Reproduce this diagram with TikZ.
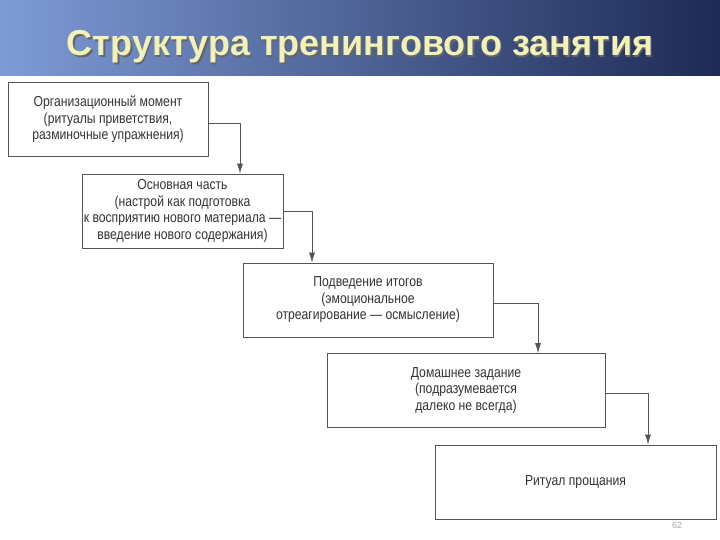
\documentclass[tikz,border=0pt]{standalone}
\usepackage{fontspec}
\setmainfont{Liberation Sans}
\newfontfamily\nar[FakeStretch=0.84]{Liberation Sans}
\usetikzlibrary{arrows.meta}
\definecolor{barL}{HTML}{7E9BD6}
\definecolor{barR}{HTML}{1E2A55}
\definecolor{ttl}{HTML}{F2F2B8}
\definecolor{ln}{HTML}{555555}
\begin{document}
\begin{tikzpicture}[x=1pt,y=-1pt,
  box/.style={draw=ln,line width=0.8pt,minimum height=74pt,align=center,font=\nar\fontsize{14.5}{16.5}\selectfont,text=black!80,inner sep=0pt},
  conn/.style={draw=ln,line width=0.7pt,-{Latex[length=10pt,width=6pt]}}]
\useasboundingbox (0,0) rectangle (720,540);
\fill[white] (0,0) rectangle (720,540);
\shade[left color=barL,right color=barR] (0,0) rectangle (720,76);
\node[font=\bfseries\fontsize{36}{40}\selectfont,text=black!60] (tsh) at (361.5,48.5) {Структура тренингового занятия};
\node[font=\bfseries\fontsize{36}{40}\selectfont,text=ttl] (title) at (360,47) {Структура тренингового занятия};
\node[box,minimum width=200pt] (b1) at (108,119.5) {Организационный момент\\(ритуалы приветствия,\\разминочные упражнения)};
\node[box,minimum width=201pt] (b2) at (182.5,211) {Основная часть\\(настрой как подготовка\\к восприятию нового материала —\\введение нового содержания)};
\node[box,minimum width=250pt] (b3) at (368,300) {Подведение итогов\\(эмоциональное\\отреагирование — осмысление)};
\node[box,minimum width=278pt] (b4) at (466,390.5) {Домашнее задание\\(подразумевается\\далеко не всегда)};
\node[box,minimum width=281pt] (b5) at (575.5,482) {Ритуал прощания};
\draw[conn] (b1.east |- 0,123) -| (240,0 |- b2.north);
\draw[conn] (b2.east |- 0,211) -| (312,0 |- b3.north);
\draw[conn] (b3.east |- 0,303) -| (538,0 |- b4.north);
\draw[conn] (b4.east |- 0,393) -| (648,0 |- b5.north);
\node[font=\fontsize{9}{10}\selectfont,text=black!35] (pg) at (677,525) {62};
\end{tikzpicture}
\end{document}
